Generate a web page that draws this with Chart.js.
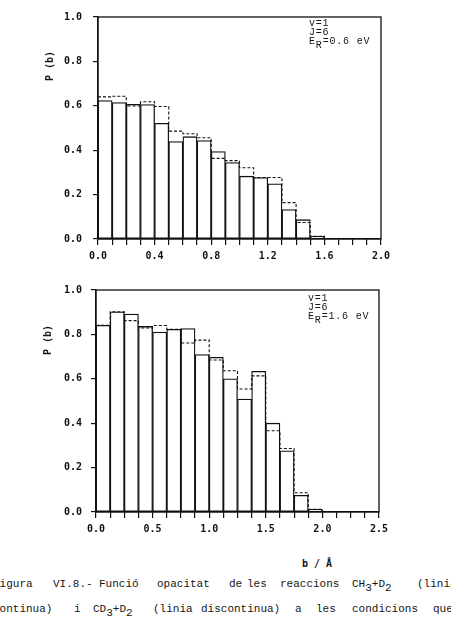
<!DOCTYPE html>
<html><head><meta charset="utf-8">
<script src="https://cdn.jsdelivr.net/npm/chart.js@4/dist/chart.umd.min.js"></script>
<style>
html,body{margin:0;padding:0;background:#fff;width:451px;height:627px;overflow:hidden;position:relative;}
.c{position:absolute;left:0;width:451px;}
.t{position:absolute;font-family:"Liberation Mono","DejaVu Sans Mono",monospace;color:#161616;white-space:pre;line-height:1;}
.ann{font-size:10px;line-height:9px;letter-spacing:0.8px;}
.ann sub{font-size:10px;vertical-align:-4px;line-height:0;}
.ylab{font-family:"DejaVu Sans Mono",monospace;font-weight:bold;font-size:10px;transform:rotate(-90deg);transform-origin:center center;}
.cap{font-size:11px;}
.cap sub{font-size:11px;vertical-align:-4px;line-height:0;}
</style></head><body>
<div class="c" style="top:0;height:275px"><canvas id="c1"></canvas></div>
<div class="c" style="top:275px;height:265px"><canvas id="c2"></canvas></div>

<div class="t ann" style="left:309px;top:19px">v=1<br>J=6<br>E<sub>R</sub>=0.6 eV</div>
<div class="t ann" style="left:308px;top:294px">v=1<br>J=6<br>E<sub>R</sub>=1.6 eV</div>
<div class="t ylab" style="left:35px;top:61px">P (b)</div>
<div class="t ylab" style="left:33px;top:335px">P (b)</div>
<div class="t" style="left:302px;top:559px;font-family:'DejaVu Sans Mono',monospace;font-weight:bold;font-size:10px">b / Å</div>

<div class="t cap" style="left:-7px;top:579px">Figura</div>
<div class="t cap" style="left:53px;top:579px">VI.8.-</div>
<div class="t cap" style="left:99px;top:579px">Funció</div>
<div class="t cap" style="left:157px;top:579px">opacitat</div>
<div class="t cap" style="left:229px;top:579px">de</div>
<div class="t cap" style="left:247px;top:579px">les</div>
<div class="t cap" style="left:280px;top:579px">reaccions</div>
<div class="t cap" style="left:352px;top:579px">CH<sub>3</sub>+D<sub>2</sub></div>
<div class="t cap" style="left:417px;top:579px">(linia</div>

<div class="t cap" style="left:-7px;top:604px">continua)</div>
<div class="t cap" style="left:74px;top:604px">i</div>
<div class="t cap" style="left:93px;top:604px">CD<sub>3</sub>+D<sub>2</sub></div>
<div class="t cap" style="left:153px;top:604px">(linia</div>
<div class="t cap" style="left:201px;top:604px">discontinua)</div>
<div class="t cap" style="left:295px;top:604px">a</div>
<div class="t cap" style="left:316px;top:604px">les</div>
<div class="t cap" style="left:352px;top:604px">condicions</div>
<div class="t cap" style="left:433px;top:604px">que</div>

<script>
// ---- data ----
const topBinStart = [0.0,0.1,0.2,0.3,0.4,0.5,0.6,0.7,0.8,0.9,1.0,1.1,1.2,1.3,1.4,1.5,1.6,1.7,1.8,1.9];
const topBinWidth = 0.1;
const topSolid  = [0.624,0.615,0.607,0.606,0.521,0.439,0.461,0.443,0.394,0.344,0.283,0.277,0.249,0.133,0.087,0.012,0,0,0,0];
const topDashed = [0.640,0.643,0.599,0.618,0.597,0.486,0.474,0.456,0.363,0.353,0.321,0.277,0.277,0.164,0.074,0.012,0,0,0,0];

const botBinStart = [0.0,0.125,0.25,0.375,0.5,0.625,0.75,0.875,1.0,1.125,1.25,1.375,1.5,1.625,1.75,1.875,2.0,2.125,2.25,2.375];
const botBinWidth = 0.125;
const botSolid  = [0.841,0.902,0.892,0.836,0.811,0.823,0.826,0.709,0.697,0.600,0.509,0.634,0.400,0.276,0.075,0.012,0,0,0,0];
const botDashed = [0.841,0.902,0.862,0.829,0.840,0.823,0.761,0.774,0.685,0.636,0.554,0.613,0.366,0.286,0.087,0.012,0,0,0,0];

const yTicks = [0.0,0.2,0.4,0.6,0.8,1.0];
const topXMax = 2.0, botXMax = 2.5;
const topLabelEvery = 4, botLabelEvery = 4;

const INK = '#111';
const tickFont = {family: 'DejaVu Sans Mono', weight: 'bold', size: 10};

const boxPlugin = {
  id: 'box',
  afterDatasetsDraw(chart) {
    const {ctx, chartArea: a} = chart;
    ctx.save();
    ctx.strokeStyle = INK; ctx.lineWidth = 1.3;
    ctx.strokeRect(a.left, a.top, a.right - a.left, a.bottom - a.top);
    ctx.restore();
  }
};

function makeChart(id, starts, width, solid, dashed, xMax, every, geom) {
  const bars = starts.map((s, i) => ({x: s + width / 2, y: solid[i]}));
  const steps = starts.map((s, i) => ({x: s, y: dashed[i]}));
  steps.push({x: starts[starts.length - 1] + width, y: dashed[dashed.length - 1]});
  return new Chart(document.getElementById(id), {
    type: 'bar',
    data: {
      datasets: [
        {type: 'line', data: steps, stepped: 'before', borderColor: INK, borderWidth: 1.1,
         borderDash: [3, 2], pointRadius: 0, fill: false},
        {type: 'bar', data: bars, backgroundColor: '#fff', borderColor: INK, borderWidth: 1.3,
         borderSkipped: false, barPercentage: 1, categoryPercentage: 1}
      ]
    },
    options: {
      responsive: true, maintainAspectRatio: false, animation: false,
      layout: {padding: {top: geom.top, right: geom.right, left: 0, bottom: 0}},
      plugins: {legend: {display: false}, tooltip: {enabled: false}},
      scales: {
        x: {
          type: 'linear', min: 0, max: xMax, offset: false,
          afterFit: s => { s.height = geom.xh; },
          grid: {display: true, drawOnChartArea: false, drawTicks: true, tickLength: 6, tickColor: INK, offset: false, lineWidth: 1.2},
          border: {display: true, color: INK, width: 1.3},
          ticks: {stepSize: width, maxTicksLimit: 100, autoSkip: false, maxRotation: 0, minRotation: 0,
                  color: INK, font: tickFont, padding: 5,
                  callback: (v, i) => (i % every === 0 ? Number(v).toFixed(1) : '')}
        },
        y: {
          type: 'linear', min: 0, max: 1,
          afterFit: s => { s.width = geom.yw; },
          grid: {display: true, drawOnChartArea: false, drawTicks: true, tickLength: 5, tickColor: INK, lineWidth: 1.2},
          border: {display: true, color: INK, width: 1.3},
          afterBuildTicks: s => { s.ticks = yTicks.map(v => ({value: v})); },
          ticks: {color: INK, font: tickFont, padding: geom.ypad,
                  callback: v => Number(v).toFixed(1)}
        }
      }
    },
    plugins: [boxPlugin]
  });
}

makeChart('c1', topBinStart, topBinWidth, topSolid, topDashed, topXMax, topLabelEvery,
  {top: 14, right: 70, xh: 36, yw: 98, ypad: 11});
makeChart('c2', botBinStart, botBinWidth, botSolid, botDashed, botXMax, botLabelEvery,
  {top: 13, right: 72, xh: 28, yw: 96, ypad: 9});
</script>
</body></html>
